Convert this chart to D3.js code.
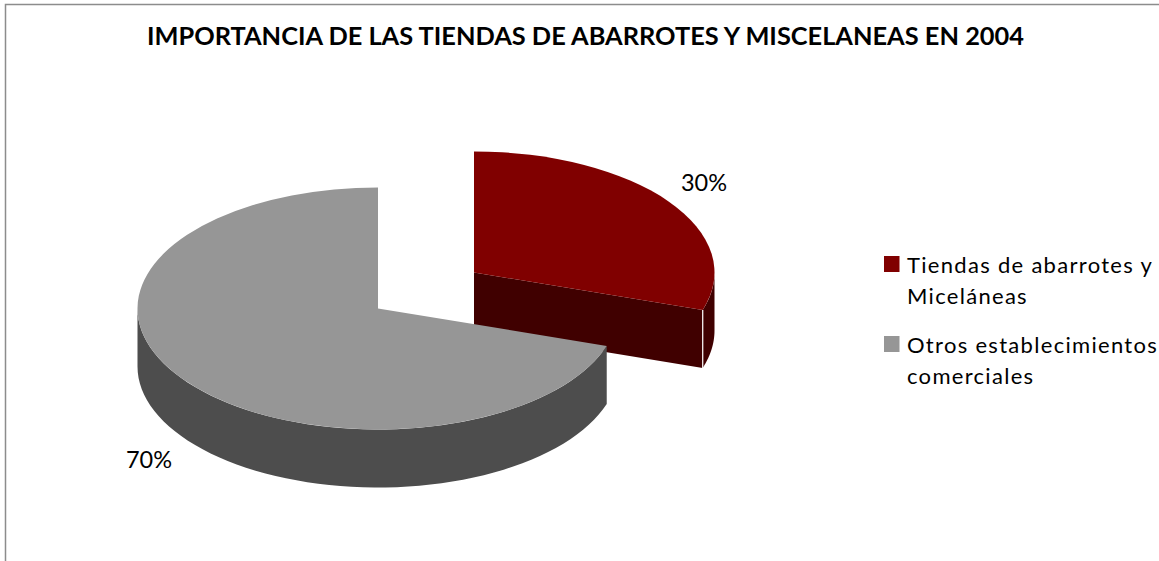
<!DOCTYPE html>
<html>
<head>
<meta charset="utf-8">
<script src="https://cdn.jsdelivr.net/npm/d3@7"></script>
<style>
html, body { margin: 0; padding: 0; background: #fff; overflow: hidden; }
text { font-family: Lato, "Open Sans", sans-serif; fill: #000; }
</style>
</head>
<body>
<div id="chart"></div>
<script>
// data
const categories = ["Tiendas de abarrotes y Miceláneas", "Otros establecimientos comerciales"];
const shares = [30, 70];
const shareLabels = ["30%", "70%"];
const legendLines = [["Tiendas de abarrotes y", "Miceláneas"], ["Otros establecimientos", "comerciales"]];
const titleText = "IMPORTANCIA DE LAS TIENDAS DE ABARROTES Y MISCELANEAS EN 2004";

// constants
const width = 1159;
const height = 561;
const rx = 240.5;
const ry = 121;
const depth = 58;
const centers = [{x: 474, y: 272.5}, {x: 378, y: 308.5}]; // red slice is pulled out
const topColor = d3.scaleOrdinal().domain(categories).range(["#800000", "#969696"]);
const sideColor = d3.scaleOrdinal().domain(categories).range(["#400000", "#4d4d4d"]);

const svg = d3.select("#chart").append("svg")
    .attr("width", width)
    .attr("height", height)
    .style("display", "block");

// chart frame, only top and left show in the crop
svg.append("path")
    .attr("d", `M5.5,${height}V4.5H${width}`)
    .attr("fill", "none")
    .attr("stroke", "#8c8c8c")
    .attr("stroke-width", 1.5);

svg.append("text")
    .attr("x", 585.5)
    .attr("y", 45)
    .attr("text-anchor", "middle")
    .attr("font-size", 24.5)
    .attr("font-weight", 700)
    .attr("textLength", 877)
    .attr("lengthAdjust", "spacingAndGlyphs")
    .text(titleText);

const pie = d3.pie().sort(null);
const arcs = pie(shares);
const arc = d3.arc().innerRadius(0).outerRadius(rx);
const onRim = a => [rx * Math.sin(a), -ry * Math.cos(a)];
const line = d3.line();

// outer wall: only the part of the rim facing the viewer (between 90 and 270 degrees)
function wallPath(d) {
    const a0 = Math.max(d.startAngle, Math.PI / 2);
    const a1 = Math.min(d.endAngle, Math.PI * 1.5);
    const upper = d3.range(0, 61).map(i => onRim(a0 + (a1 - a0) * i / 60));
    const lower = upper.slice().reverse().map(p => [p[0], p[1] + depth]);
    return line(upper.concat(lower)) + "Z";
}

// flat cut face running from the centre to the end of the slice
function cutPath(d) {
    const p = onRim(d.endAngle);
    return line([[0, 0], p, [p[0], p[1] + depth], [0, depth]]) + "Z";
}

arcs.forEach((d, i) => {
    const g = svg.append("g")
        .attr("transform", `translate(${centers[i].x},${centers[i].y})`);
    g.append("path")
        .attr("d", wallPath(d))
        .attr("fill", sideColor(categories[i]));
    if (i === 0) {
        g.append("path")
            .attr("d", cutPath(d))
            .attr("fill", sideColor(categories[i]));
        // light edge where the cut face meets the rim
        const p = onRim(d.endAngle);
        g.append("path")
            .attr("d", line([p, [p[0], p[1] + depth]]))
            .attr("stroke", "#fff")
            .attr("stroke-width", 1.2);
    }
    g.append("path")
        .attr("transform", `scale(1,${ry / rx})`)
        .attr("d", arc(d))
        .attr("fill", topColor(categories[i]));
});

// value labels
const labelPos = [{x: 704, y: 191}, {x: 149, y: 468}];
svg.selectAll(".share").data(shareLabels).enter().append("text")
    .attr("class", "share")
    .attr("x", (d, i) => labelPos[i].x)
    .attr("y", (d, i) => labelPos[i].y)
    .attr("text-anchor", "middle")
    .attr("font-size", 23.5)
    .text(d => d);

// legend
const legendY = [256, 336];
const legend = svg.selectAll(".legend").data(categories).enter().append("g")
    .attr("class", "legend")
    .attr("transform", (d, i) => `translate(884,${legendY[i]})`);

legend.append("rect")
    .attr("width", 15.5)
    .attr("height", 16)
    .attr("fill", d => topColor(d));

legend.selectAll("text").data((d, i) => legendLines[i]).enter().append("text")
    .attr("x", 23)
    .attr("y", (d, i) => 16.5 + i * 31)
    .attr("font-size", 22)
    .attr("letter-spacing", 1.3)
    .text(d => d);
</script>
</body>
</html>
